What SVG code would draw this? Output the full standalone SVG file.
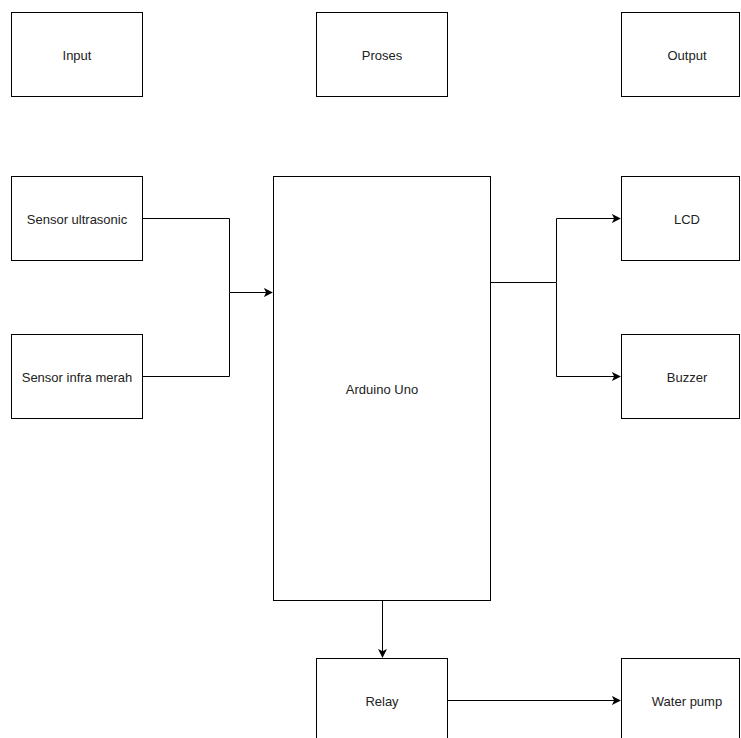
<svg xmlns="http://www.w3.org/2000/svg" width="741" height="738" viewBox="0 0 741 738">
<style>
.box{fill:#fff;stroke:#000;stroke-width:1}
.lbl{font-family:"Liberation Sans",Arial,sans-serif;font-size:13px;fill:#222;text-anchor:middle;dominant-baseline:central}
.edge{fill:none;stroke:#000;stroke-width:1}
</style>
<defs>
<marker id="arr" viewBox="0 0 10 10" refX="9" refY="5" markerWidth="9" markerHeight="9" markerUnits="userSpaceOnUse" orient="auto">
<path d="M0,0 L10,5 L0,10 L2.5,5 Z" fill="#000"/>
</marker>
</defs>
<rect width="741" height="738" fill="#fff"/>
<g id="input"><rect class="box" x="11.5" y="12.5" width="131" height="84"/><text class="lbl" x="77" y="55">Input</text></g>
<g id="proses"><rect class="box" x="316.5" y="12.5" width="131" height="84"/><text class="lbl" x="382" y="55">Proses</text></g>
<g id="output"><rect class="box" x="621.5" y="12.5" width="118" height="84"/><text class="lbl" x="687" y="55">Output</text></g>
<g id="sensor-ultrasonic"><rect class="box" x="11.5" y="176.5" width="131" height="84"/><text class="lbl" x="77" y="219">Sensor ultrasonic</text></g>
<g id="sensor-infra-merah"><rect class="box" x="11.5" y="334.5" width="131" height="84"/><text class="lbl" x="77" y="377">Sensor infra merah</text></g>
<g id="arduino-uno"><rect class="box" x="273.5" y="176.5" width="217" height="424"/><text class="lbl" x="382" y="389">Arduino Uno</text></g>
<g id="lcd"><rect class="box" x="621.5" y="176.5" width="118" height="84"/><text class="lbl" x="687" y="219">LCD</text></g>
<g id="buzzer"><rect class="box" x="621.5" y="334.5" width="118" height="84"/><text class="lbl" x="687" y="377">Buzzer</text></g>
<g id="relay"><rect class="box" x="316.5" y="658.5" width="131" height="84"/><text class="lbl" x="382" y="701">Relay</text></g>
<g id="water-pump"><rect class="box" x="621.5" y="658.5" width="118" height="84"/><text class="lbl" x="687" y="701">Water pump</text></g>
<g id="connectors">
<path class="edge" d="M142.5,218.5 H229.5 V292.5 H272" marker-end="url(#arr)"/>
<path class="edge" d="M142.5,376.5 H229.5 V292.5"/>
<path class="edge" d="M490.5,282.5 H556.5 V218.5 H620" marker-end="url(#arr)"/>
<path class="edge" d="M556.5,282.5 V376.5 H620" marker-end="url(#arr)"/>
<path class="edge" d="M382.5,600.5 V657" marker-end="url(#arr)"/>
<path class="edge" d="M447.5,700.5 H620" marker-end="url(#arr)"/>
</g>
</svg>
